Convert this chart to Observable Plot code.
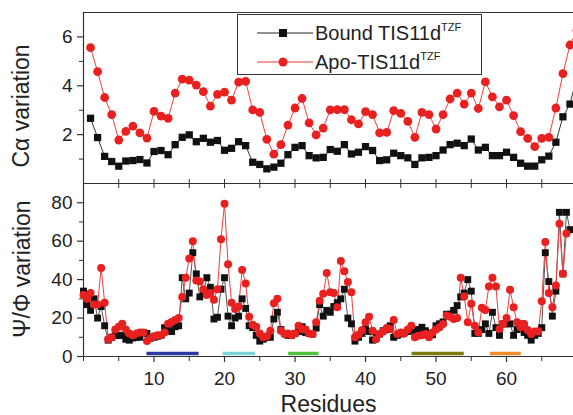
<!DOCTYPE html>
<html><head><meta charset="utf-8">
<script src="https://cdn.jsdelivr.net/npm/d3@7"></script>
<script src="https://cdn.jsdelivr.net/npm/@observablehq/plot@0.6"></script>
<style>
body{margin:0;background:#fff;font-family:"Liberation Sans",Arial,sans-serif;color:#222;}
#wrap{position:relative;width:573px;height:415px;overflow:hidden;background:#fff;}
#top,#bot{position:absolute;left:0;}
#top{top:0;}
#bot{top:173px;}
#legend{position:absolute;left:237px;top:14px;width:245px;height:61px;border:1.5px solid #333;background:#fff;box-sizing:border-box;}
.sym{position:absolute;left:257px;width:56px;height:12px;}
.lab{position:absolute;left:315px;font-size:20px;line-height:20px;white-space:nowrap;color:#222;}
.lab sup{font-size:11px;vertical-align:0;position:relative;top:-9px;}
</style>
</head><body>
<div id="wrap">
  <div id="top"></div>
  <div id="bot"></div>
  <div id="legend"></div>
  <svg class="sym" style="top:27px"><line x1="0" y1="6" x2="56" y2="6" stroke="#222" stroke-width="1"/><rect x="22" y="2" width="8" height="8" fill="#111"/></svg>
  <div class="lab" style="top:23px">Bound TIS11d<sup>TZF</sup></div>
  <svg class="sym" style="top:56px"><line x1="0" y1="6" x2="56" y2="6" stroke="#e83a3a" stroke-width="1"/><circle cx="26" cy="6" r="4.5" fill="#e82020"/></svg>
  <div class="lab" style="top:52px">Apo-TIS11d<sup>TZF</sup></div>
</div>
<script>
// ---- data ----
const legendLabels = ["Bound TIS11d", "Apo-TIS11d"];
const caTicks = [2, 4, 6];
const angleTicks = [0, 20, 40, 60, 80];
const residueTicks = [10, 20, 30, 40, 50, 60];

// C-alpha variation, residues 1..70
const boundCa = [2.67,1.88,1.11,0.90,0.71,0.92,0.94,0.98,0.84,1.31,1.35,1.18,1.59,1.89,1.99,1.71,1.85,1.69,1.76,1.36,
  1.44,1.71,1.55,0.87,0.78,0.60,0.67,0.83,1.18,1.48,1.55,1.14,1.05,1.07,1.39,1.32,1.59,1.21,1.28,1.51,
  1.35,0.94,0.97,1.24,1.14,1.05,0.78,1.05,1.07,1.14,1.37,1.59,1.65,1.55,1.82,1.37,1.48,1.14,1.14,1.28,
  1.07,0.83,0.71,0.71,0.97,1.12,1.69,2.73,3.25,4.40];
const apoCa = [5.56,4.58,3.52,2.82,1.78,2.13,2.35,2.07,1.86,2.95,2.76,2.67,3.70,4.27,4.23,4.03,3.76,3.17,3.65,3.74,
  3.41,4.15,4.18,3.01,2.91,1.81,1.20,1.59,2.39,3.09,3.48,2.48,1.99,2.27,3.01,3.02,3.02,2.61,2.44,2.94,
  2.82,2.07,2.09,2.98,2.87,2.54,1.89,2.91,2.82,2.23,2.82,3.46,3.70,3.25,3.70,3.07,4.16,3.55,3.14,3.41,
  2.78,2.12,1.85,1.51,1.85,1.89,3.09,4.50,5.67,6.27];

// Psi/Phi variation, sampled every half residue from 0
const boundAngle = [34,27,24,30,20,26,16,8.5,10,11,
  11,11,9,8.5,9.6,10,10,12.5,12,9.6,
  10,10.5,11,15,14,13,15.5,16,41,30,
  33,54,43,31,33,41,36,19.5,20.4,35,
  41,21,16,20,21,30,25,16,15,11,
  8,9,10,10,19.5,23,14,12,11,11,
  12,13,15.5,12.5,12,11.7,14.8,27,21,24,
  23,26,28,30,35,20,17,8,10,12,
  14.3,13,8.5,10,11.7,13.4,14,16,10,11,
  11.7,12.5,13,13.8,12.5,14,15.2,13.4,12,11.3,
  16,17,18,22,22,24,26.5,31,33,40,
  34,12,12,14,17,12,23,15,11,17,
  17,17,11,14,17,12.5,11,8.5,11,12,
  15,54,39,21,34,75,43,75,66];
const apoAngle = [32,30,33,27,27,46,28,9,10,14,
  15.5,17,14,12,11,12,12.5,12.5,8,9.5,
  10.5,11,11,12.5,17,18,19,20,31,41,
  51,60,39.5,39,35,32,33,29.5,35,61,
  79.5,48,28,24.7,26,45,38,20.7,16.5,15.5,
  12,10,10.5,13.4,27.7,30,13.4,11.7,12,11,
  12,16,14.3,14,12,11.7,17.8,29,32.6,43.4,
  33.4,33,25.6,49.7,44.4,38.7,33.4,10,11.3,13.8,
  17.8,20.7,13.4,9,11.7,13,14.8,14.3,19,11.7,
  12.5,12,14,16,10,10.8,11,11.7,10,12.5,
  14,15.2,16.9,21.3,20.7,19.5,20,41,31.2,17.8,
  27.4,16,12.5,25.3,24.2,36.4,41,36.4,14.3,16.9,
  20,34.7,25.6,17.8,15.2,16.9,13.8,11.7,13,13.1,
  28.7,59.6,33,25.6,37,69,43,64];

// secondary-structure segments (residue ranges)
const segStart = [9.0, 19.8, 29.1, 46.6, 57.7];
const segEnd = [16.4, 24.4, 33.4, 54.0, 62.1];
const segColor = ["#2b3a9e", "#78d6da", "#4cc23e", "#7d7a12", "#f28a2c"];

// ---- build tables ----
const caRows = boundCa.map((v, i) => ({r: i + 1, bound: v, apo: apoCa[i]}));
const boundRows = boundAngle.map((v, i) => ({r: i * 0.5, v}));
const apoRows = apoAngle.map((v, i) => ({r: i * 0.5, v}));
const segs = segStart.map((s, i) => ({s, e: segEnd[i], c: segColor[i]}));

const FONT = '"Liberation Sans", Arial, sans-serif';
const xDomain = [0, 69.5];
const black = "#111", blackLine = "#333", red = "#e82020", redLine = "#ee4040";
const ax = "#333";
const blank = () => "";

const topPlot = Plot.plot({
  width: 573, height: 184,
  marginLeft: 83, marginRight: 0, marginTop: 12, marginBottom: 1,
  x: {domain: xDomain, axis: null},
  y: {domain: [0, 7], axis: null},
  style: {fontFamily: FONT, color: "#222", background: "transparent", overflow: "visible"},
  marks: [
    Plot.ruleY([7], {stroke: ax, strokeWidth: 1.2}),
    Plot.ruleY([0], {stroke: ax, strokeWidth: 1.2}),
    Plot.ruleX([0], {stroke: ax, strokeWidth: 1.2}),
    Plot.axisY(caTicks, {label: null, tickSize: 6, tickPadding: 5, fontSize: 19, stroke: ax, strokeWidth: 1.2}),
    Plot.axisY([1, 3, 5], {label: null, tickSize: 4, tickFormat: blank, stroke: ax}),
    Plot.axisX(d3.range(5, 70, 5), {label: null, anchor: "bottom", tickSize: 5, tickFormat: blank, stroke: ax}),
    Plot.text(["C\u03b1 variation"], {frameAnchor: "left", textAnchor: "middle", rotate: -90, dx: -62, dy: 8, fontSize: 23, fill: "#222"}),
    Plot.line(caRows, {x: "r", y: "bound", stroke: blackLine, strokeWidth: 1}),
    Plot.line(caRows, {x: "r", y: "apo", stroke: redLine, strokeWidth: 1}),
    Plot.dot(caRows, {x: "r", y: "bound", symbol: "square", r: 4.1, fill: black, stroke: "none"}),
    Plot.dot(caRows, {x: "r", y: "apo", r: 4.4, fill: red, stroke: "none"})
  ]
});
document.getElementById("top").appendChild(topPlot);

const botPlot = Plot.plot({
  width: 573, height: 242,
  marginLeft: 83, marginRight: 0, marginTop: 10, marginBottom: 59,
  x: {domain: xDomain, axis: null},
  y: {domain: [0, 90], axis: null},
  color: {type: "identity"},
  style: {fontFamily: FONT, color: "#222", background: "transparent", overflow: "visible"},
  marks: [
    Plot.ruleY([0], {stroke: ax, strokeWidth: 1.2}),
    Plot.ruleX([0], {stroke: ax, strokeWidth: 1.2}),
    Plot.axisY(angleTicks, {label: null, tickSize: 6, tickPadding: 5, fontSize: 19, stroke: ax, strokeWidth: 1.2}),
    Plot.axisY([10, 30, 50, 70], {label: null, tickSize: 4, tickFormat: blank, stroke: ax}),
    Plot.axisX(d3.range(5, 70, 5), {label: null, anchor: "top", tickSize: 5, tickFormat: blank, stroke: ax}),
    Plot.axisX(residueTicks, {label: null, anchor: "bottom", tickSize: 6, tickPadding: 9, fontSize: 19, stroke: ax, strokeWidth: 1.2}),
    Plot.axisX([0, 5, 15, 25, 35, 45, 55, 65], {label: null, anchor: "bottom", tickSize: 5, tickFormat: blank, stroke: ax}),
    Plot.text(["Residues"], {frameAnchor: "bottom", dy: 55, fontSize: 23, fill: "#222"}),
    Plot.text(["\u03a8/\u03a6 variation"], {frameAnchor: "left", textAnchor: "middle", rotate: -90, dx: -61, dy: -1, fontSize: 23, fill: "#222"}),
    Plot.ruleY(segs, {x1: "s", x2: "e", y: () => 0, dy: -3, stroke: "c", strokeWidth: 3.5}),
    Plot.line(boundRows, {x: "r", y: "v", stroke: "#555", strokeWidth: 1}),
    Plot.line(apoRows, {x: "r", y: "v", stroke: redLine, strokeWidth: 1}),
    Plot.dot(boundRows, {x: "r", y: "v", symbol: "square", r: 3.9, fill: black, stroke: "none"}),
    Plot.dot(apoRows, {x: "r", y: "v", r: 4, fill: red, stroke: "none"})
  ]
});
document.getElementById("bot").appendChild(botPlot);
</script>
</body></html>
